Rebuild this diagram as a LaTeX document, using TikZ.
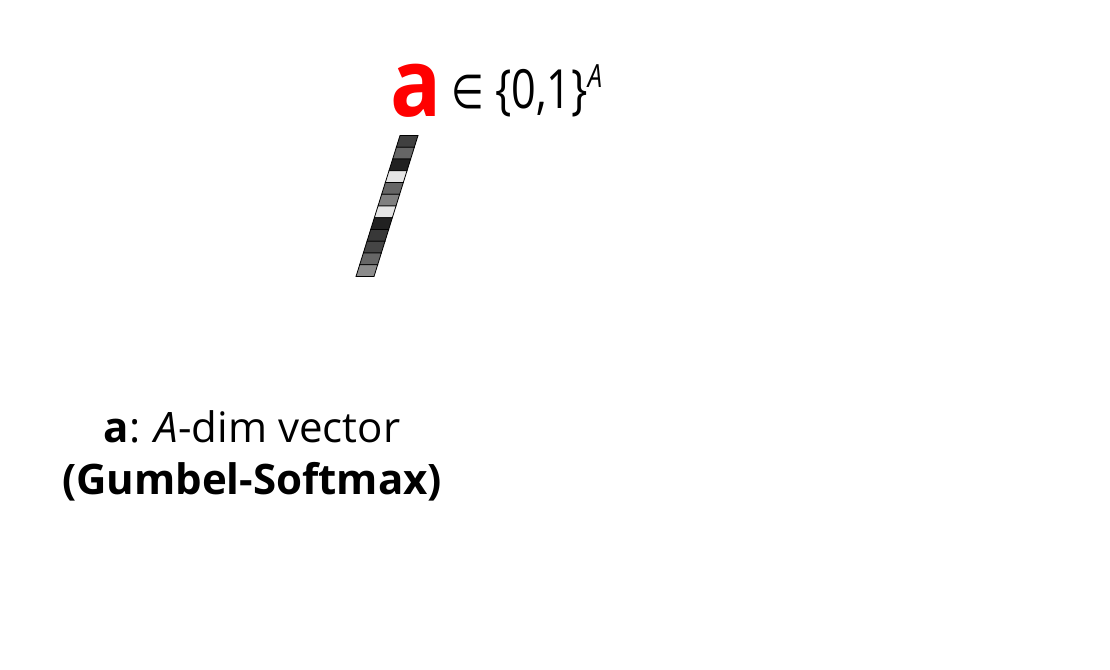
\documentclass[tikz,border=0pt]{standalone}
\usepackage{fontspec}
\setmainfont{Open Sans}
\newfontfamily\simboli{DejaVu Sans}
\usetikzlibrary{positioning}

\begin{document}
\begin{tikzpicture}[
  x=1pt, y=-1pt,
  cella/.style={draw=black, line width=0.8pt},
  testo/.style={inner sep=0pt, anchor=base west},
  didascalia/.style={inner sep=0pt, anchor=base, font=\fontsize{42}{52}\selectfont}
]
\useasboundingbox (0,0) rectangle (1110,669);

% ---- vettore a (celle inclinate) ------------------------------------
% indice / luminosita'
\foreach \i/\g in {0/25,1/40,2/13,3/90,4/40,5/50,6/90,7/13,8/22,9/27,10/40,11/55} {
  \pgfmathsetmacro\yt{135.5+11.75*\i}
  \pgfmathsetmacro\yb{\yt+11.75}
  \pgfmathsetmacro\xt{400-44/141*(\yt-135.5)}
  \pgfmathsetmacro\xb{400-44/141*(\yb-135.5)}
  \filldraw[cella, fill=white!\g!black]
    (\xt,\yt) -- ({\xt+18},\yt) -- ({\xb+18},\yb) -- (\xb,\yb) -- cycle;
}

% ---- etichetta in alto ----------------------------------------------
\node[testo, text=red, xscale=0.9, font=\fontsize{94}{100}\selectfont\bfseries] (vett) at (390,116) {a};
\node[testo, xscale=0.8, font=\fontsize{54}{60}\selectfont] (insieme) at (451,108)
  {{\simboli\fontsize{47}{56}\selectfont ∈} \{0,1\}\raisebox{21pt}{\fontsize{32}{36}\selectfont\itshape A}};

% ---- didascalia -----------------------------------------------------
\node[didascalia] (descr) at (252,442) {\textbf{a}: \textit{A}-dim vector};
\node[didascalia] (metodo) at (252,494) {\textbf{(Gumbel-Softmax)}};

\end{tikzpicture}
\end{document}
